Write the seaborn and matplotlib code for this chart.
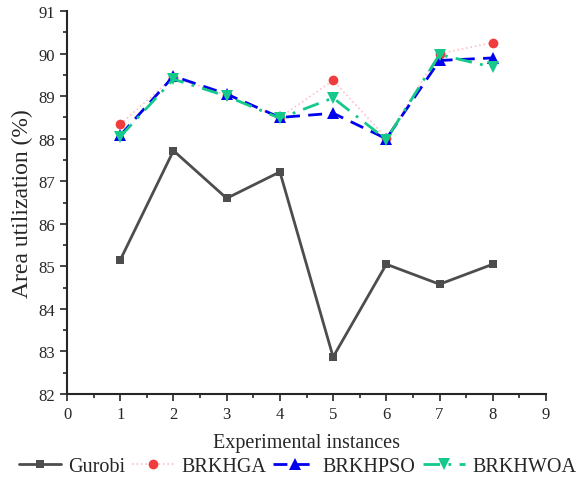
import numpy as np
import pandas as pd
import matplotlib
matplotlib.use("Agg")
import matplotlib.pyplot as plt
import seaborn as sns
from matplotlib.ticker import MultipleLocator

# data
instances = [1, 2, 3, 4, 5, 6, 7, 8]
gurobi = [85.15, 87.72, 86.60, 87.22, 82.87, 85.05, 84.58, 85.05]
brkhga = [88.34, 89.45, 89.02, 88.50, 89.37, 88.02, 90.00, 90.26]
brkhpso = [88.08, 89.47, 89.05, 88.50, 88.60, 88.00, 89.84, 89.90]
brkhwoa = [88.05, 89.40, 89.00, 88.48, 88.96, 87.98, 89.98, 89.68]

sns.set_style("ticks")
plt.rcParams['font.family'] = ['Liberation Serif', 'DejaVu Serif']
plt.rcParams['xtick.direction'] = 'out'
plt.rcParams['ytick.direction'] = 'out'

fig = plt.figure(figsize=(5.83, 4.85), dpi=100)
ax = fig.add_axes([0.115, 0.1856, 0.8215, 0.7894])

# line styles per method
styles = [
    ("Gurobi", gurobi, dict(color="#4d4d4d", marker="s", linestyle="-", linewidth=2, markersize=6)),
    ("BRKHGA", brkhga, dict(color="#ffc0c8", marker="o", linestyle=":", linewidth=1.2, markersize=7,
                            markerfacecolor="#f03c3c")),
    ("BRKHPSO", brkhpso, dict(color="#0000ee", marker="^", linestyle=(0, (5, 3)), linewidth=2, markersize=8)),
    ("BRKHWOA", brkhwoa, dict(color="#14c98a", marker="v", linestyle=(0, (6, 3, 1, 3)), linewidth=2, markersize=8)),
]

for name, vals, kw in styles:
    df = pd.DataFrame({"x": instances, "y": vals})
    sns.lineplot(data=df, x="x", y="y", ax=ax, label=name,
                 markeredgewidth=0, **kw)

ax.set_xlim(0, 9)
ax.set_ylim(82, 91)
ax.xaxis.set_major_locator(MultipleLocator(1))
ax.xaxis.set_minor_locator(MultipleLocator(0.5))
ax.yaxis.set_major_locator(MultipleLocator(1))
ax.yaxis.set_minor_locator(MultipleLocator(0.5))
ax.tick_params(which='major', length=5, width=1.2, labelsize=12)
ax.tick_params(which='minor', length=3, width=1.2)
for s in ['left', 'bottom']:
    ax.spines[s].set_linewidth(1.5)
sns.despine(ax=ax)

ax.set_xlabel("Experimental instances", fontsize=14.5, labelpad=8)
ax.set_ylabel("Area utilization (%)", fontsize=17, labelpad=4)

handles, labels = ax.get_legend_handles_labels()
ax.get_legend().remove()
fig.legend(handles, labels, loc="center", bbox_to_anchor=(0.51, 0.037), ncol=4, frameon=False,
           fontsize=14.5, handlelength=2.1, columnspacing=0.35, handletextpad=0.35)

fig.savefig("out.png", dpi=100)
